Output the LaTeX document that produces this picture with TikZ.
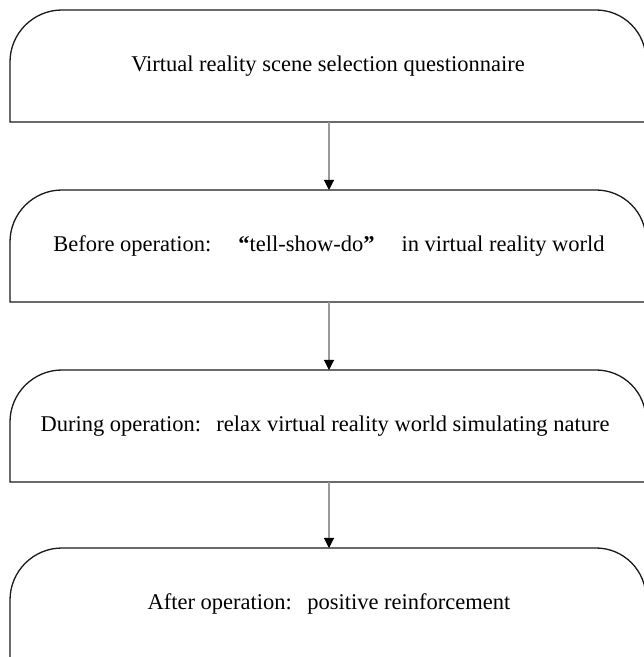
\documentclass[tikz,border=0pt]{standalone}
\usepackage{fontspec}
\setmainfont{Liberation Serif}
\usetikzlibrary{arrows.meta}
\definecolor{boxline}{HTML}{1A1A1A}
\definecolor{arrowline}{HTML}{9A9A9A}
\tikzset{
  boxpath/.style={draw=boxline, line width=1.3pt},
  label/.style={font=\fontsize{22.5}{27}\selectfont, inner sep=0pt, anchor=center},
  flowarrow/.style={draw=arrowline, line width=1.1pt,
    -{Triangle[width=10pt,length=10pt,color=black]}}
}
\newcommand{\stepshape}[2]{% #1 top y, #2 bottom y
  \draw[boxpath] (10,#2) -- (10,#1-52) arc[start angle=180,end angle=90,radius=52]
    -- (596,#1) arc[start angle=90,end angle=0,radius=50] -- (646,#2) -- cycle;
}
\begin{document}
\begin{tikzpicture}[x=1pt,y=1pt]
\useasboundingbox (0,0) rectangle (644,657);
\clip (0,0) rectangle (644,657);
% boxes (pixel top/bottom converted: y = 657 - py)
\stepshape{647}{535}
\stepshape{467}{355}
\stepshape{287}{175}
\stepshape{109}{-5}
% texts
\node[label] (t1) at (328,591) {Virtual reality scene selection questionnaire};
\node[label] (t2) at (329,411) {Before operation:\hspace{1.2em}\textbf{“}tell-show-do\textbf{”}\hspace{1.2em}in virtual reality world};
\node[label] (t3) at (325,231) {During operation:\hspace{0.35em} relax virtual reality world simulating nature};
\node[label] (t4) at (329,53) {After operation:\hspace{0.35em} positive reinforcement};
% connector anchors on the box edges
\coordinate (b1) at (329,535);
\coordinate (a2) at (329,467);
\coordinate (b2) at (329,355);
\coordinate (a3) at (329,287);
\coordinate (b3) at (329,175);
\coordinate (a4) at (329,109);
\draw[flowarrow] (b1) -- (a2);
\draw[flowarrow] (b2) -- (a3);
\draw[flowarrow] (b3) -- (a4);
\end{tikzpicture}
\end{document}
